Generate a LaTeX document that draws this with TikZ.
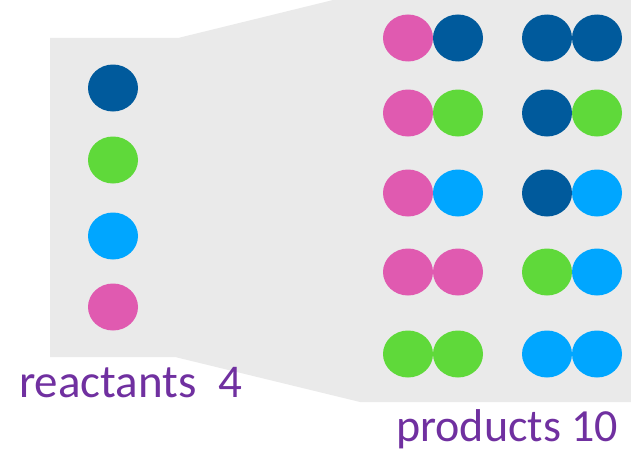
\documentclass[tikz,border=0pt]{standalone}
\usepackage{fontspec}
\setmainfont{Carlito}
\usetikzlibrary{shapes.geometric}
\definecolor{dblue}{RGB}{0,90,156}
\definecolor{lgreen}{RGB}{95,217,58}
\definecolor{lblue}{RGB}{0,166,255}
\definecolor{pinkc}{RGB}{224,90,176}
\definecolor{purp}{RGB}{112,48,160}
\definecolor{bggray}{RGB}{234,234,234}
\tikzset{
  dot/.style={ellipse, draw=none, fill=#1, minimum width=50pt, minimum height=47pt, inner sep=0pt},
  lbl/.style={text=purp, font=\fontsize{47}{50}\selectfont, anchor=base west, inner sep=0pt}
}
\begin{document}
\begin{tikzpicture}[x=1pt,y=-1pt]
\useasboundingbox (0,0) rectangle (631,452);
\fill[bggray] (50,38) -- (178,38) -- (333,0) -- (631,0) -- (631,402) -- (360,402) -- (175,357) -- (50,357) -- cycle;
% reactants
\node[dot=dblue] (r1) at (113,88) {};
\node[dot=lgreen] (r2) at (113,160) {};
\node[dot=lblue] (r3) at (113,236) {};
\node[dot=pinkc] (r4) at (113,307) {};
% products
\node[dot=pinkc] (p1a) at (408,38) {};
\node[dot=dblue] (p1b) at (458,38) {};
\node[dot=dblue] (q1a) at (547,38) {};
\node[dot=dblue] (q1b) at (597,38) {};
\node[dot=pinkc] (p2a) at (408,113) {};
\node[dot=lgreen] (p2b) at (458,113) {};
\node[dot=dblue] (q2a) at (547,113) {};
\node[dot=lgreen] (q2b) at (597,113) {};
\node[dot=pinkc] (p3a) at (408,193) {};
\node[dot=lblue] (p3b) at (458,193) {};
\node[dot=dblue] (q3a) at (547,193) {};
\node[dot=lblue] (q3b) at (597,193) {};
\node[dot=pinkc] (p4a) at (408,272) {};
\node[dot=pinkc] (p4b) at (458,272) {};
\node[dot=lgreen] (q4a) at (547,272) {};
\node[dot=lblue] (q4b) at (597,272) {};
\node[dot=lgreen] (p5a) at (408,354) {};
\node[dot=lgreen] (p5b) at (458,354) {};
\node[dot=lblue] (q5a) at (547,354) {};
\node[dot=lblue] (q5b) at (597,354) {};
\node[lbl] (rl) at (19,397) {reactants\ \ 4};
\node[lbl, font=\fontsize{46}{50}\selectfont] (pl) at (396,441) {products 10};
\end{tikzpicture}
\end{document}
